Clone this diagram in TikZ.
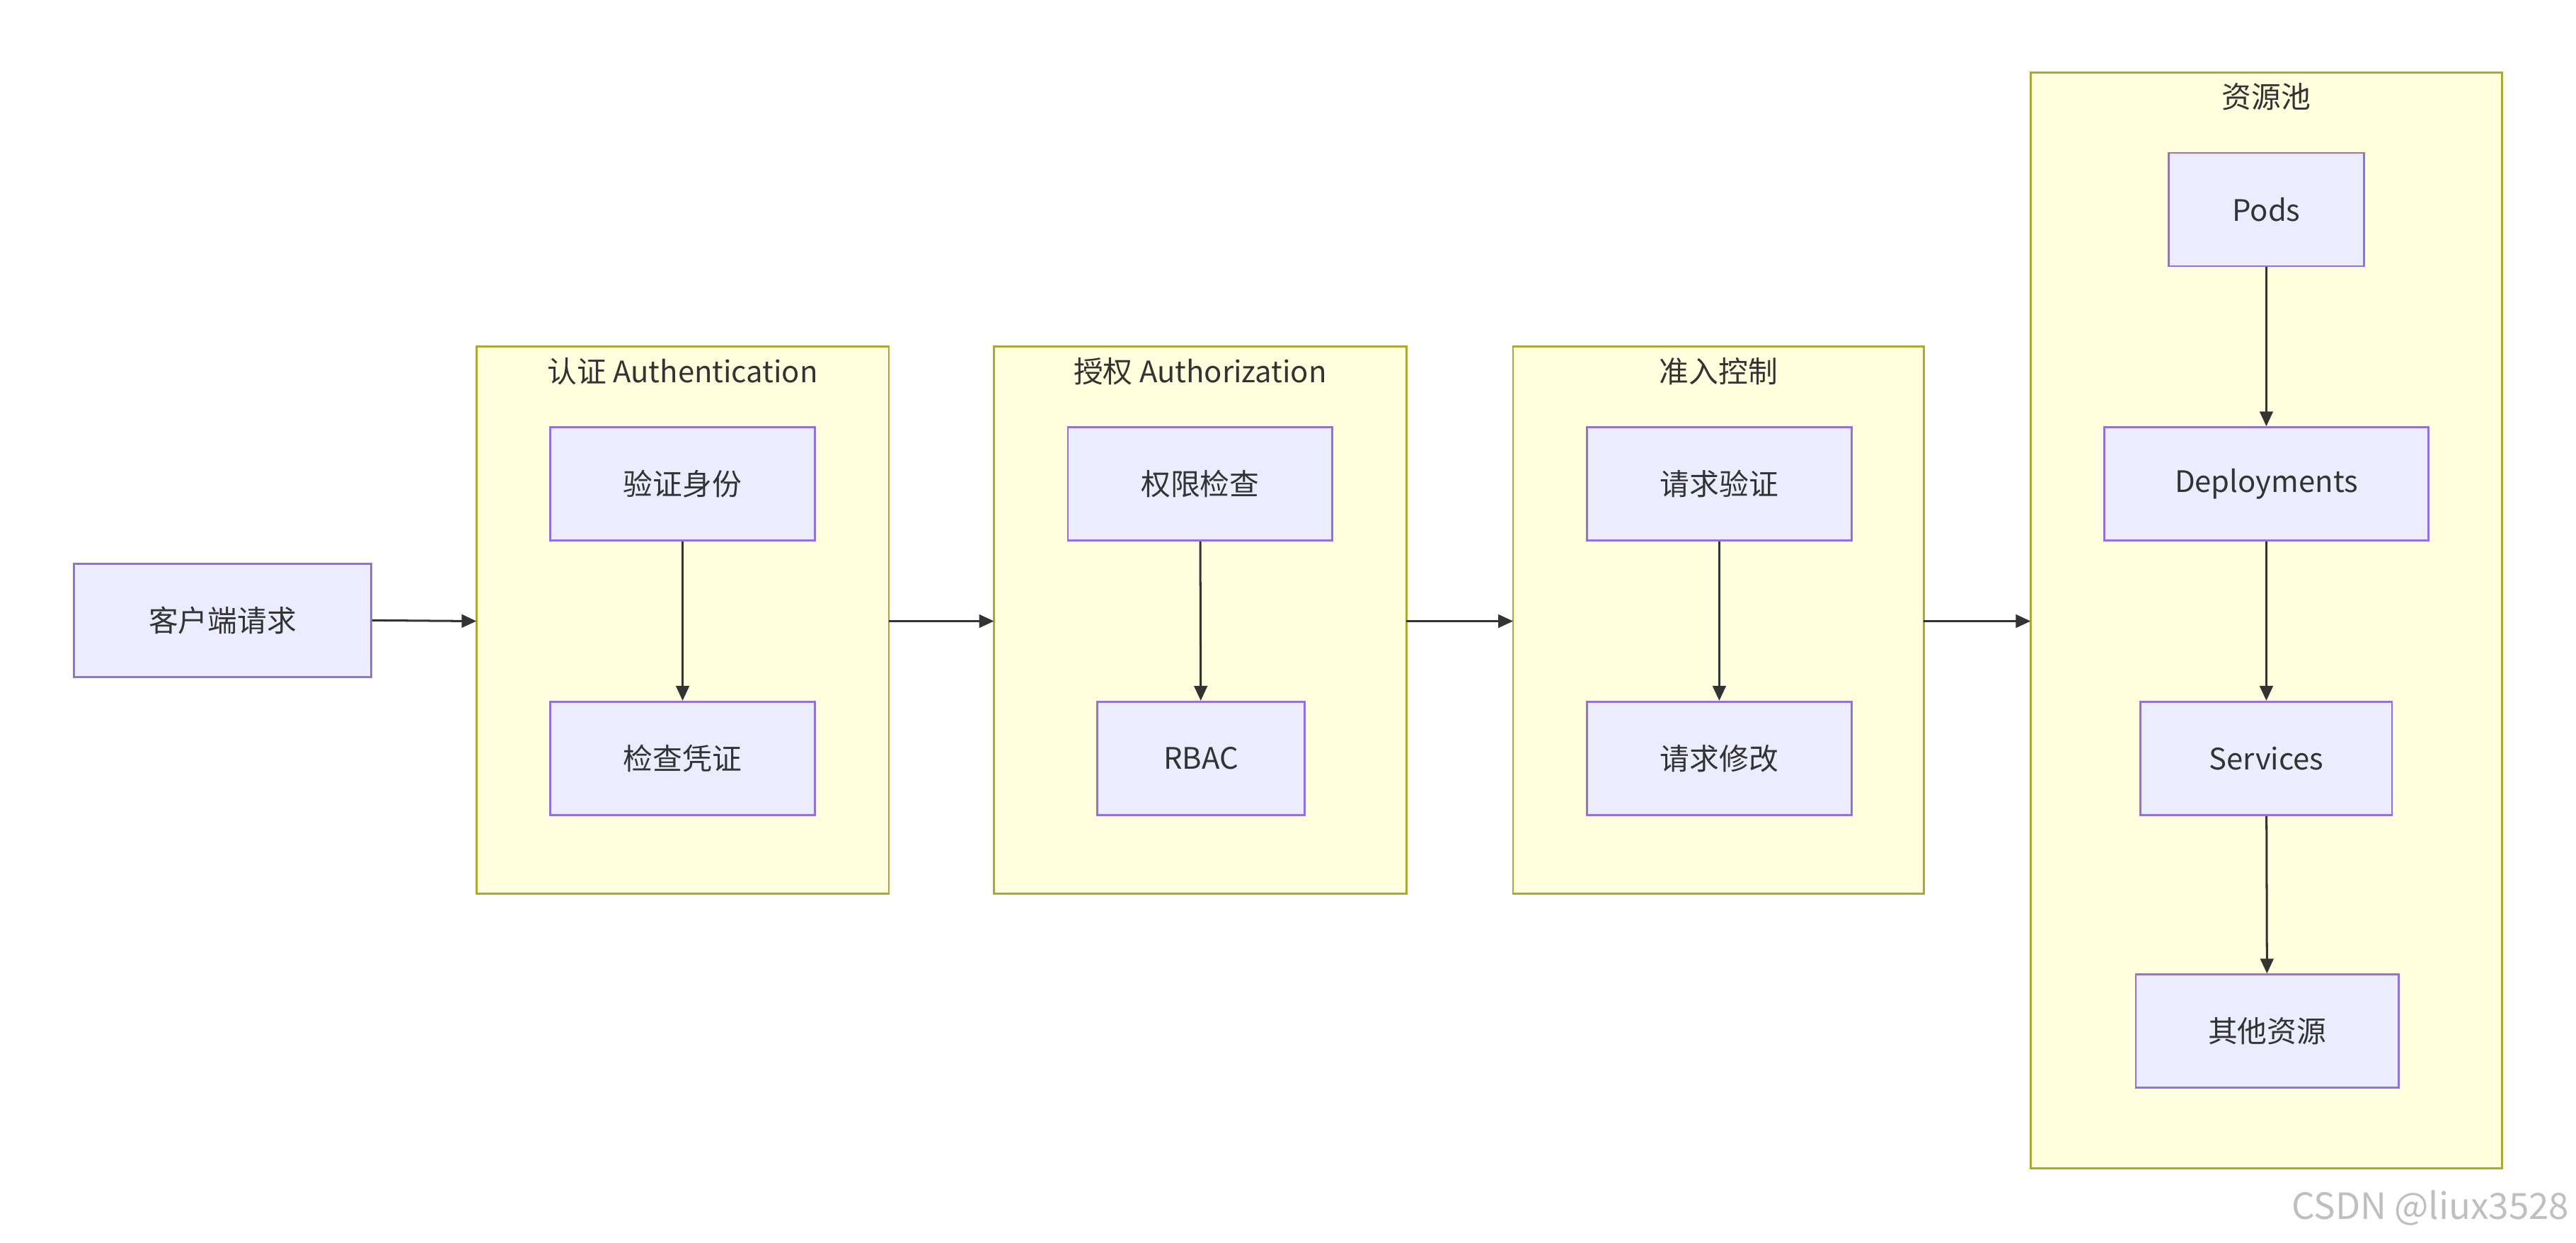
\documentclass[tikz,border=0pt]{standalone}
\usepackage{fontspec}
\setmainfont{Noto Sans CJK SC}
\usetikzlibrary{arrows.meta}
\definecolor{nfill}{HTML}{ECECFF}
\definecolor{nline}{HTML}{9370DB}
\definecolor{cfill}{HTML}{FFFFDE}
\definecolor{cline}{HTML}{AAAA33}
\definecolor{txt}{HTML}{333333}
\begin{document}
\begin{tikzpicture}[x=1pt,y=-1pt,
  nd/.style={draw=nline,fill=nfill,line width=1.2pt,text=txt,font=\fontsize{18}{20}\selectfont},
  cl/.style={draw=cline,fill=cfill,line width=1.2pt},
  ttl/.style={text=txt,font=\fontsize{18}{20}\selectfont},
  ar/.style={draw=txt,line width=1.3pt,-{Triangle[length=9pt,width=8pt]}}]
\useasboundingbox (0,0) rectangle (1568,756);
\fill[white] (0,0) rectangle (1568,756);
\newcommand{\bx}[5]{\node[nd,minimum width=#3-#2,minimum height=69,inner sep=0] (#1) at ({(#2+#3)/2},#4) {#5};}
% clusters
\draw[cl] (290,211) rectangle (541,544); \coordinate (aL) at (290,378); \coordinate (aR) at (541,378);
\draw[cl] (605,211) rectangle (856,544); \coordinate (bL) at (605,378); \coordinate (bR) at (856,378);
\draw[cl] (921,211) rectangle (1171,544); \coordinate (cL) at (921,378); \coordinate (cR) at (1171,378);
\draw[cl] (1236,44) rectangle (1523,711); \coordinate (dL) at (1236,378);
\node[ttl] (t1) at (415.5,226) {认证 Authentication};
\node[ttl] (t2) at (730.5,226) {授权 Authorization};
\node[ttl] (t3) at (1046,226) {准入控制};
\node[ttl] (t4) at (1379.5,59) {资源池};
% nodes
\bx{client}{45}{226}{377.5}{客户端请求}
\bx{a1}{335}{496}{294.5}{验证身份}
\bx{a2}{335}{496}{461.5}{检查凭证}
\bx{b1}{650}{811}{294.5}{权限检查}
\bx{b2}{668}{794}{461.5}{RBAC}
\bx{c1}{966}{1127}{294.5}{请求验证}
\bx{c2}{966}{1127}{461.5}{请求修改}
\bx{d1}{1320}{1439}{127.5}{Pods}
\bx{d2}{1281}{1478}{294.5}{Deployments}
\bx{d3}{1303}{1456}{461.5}{Services}
\bx{d4}{1300}{1460}{627.5}{其他资源}
% edges
\draw[ar] (client.east) -- (aL);
\draw[ar] (aR) -- (bL);
\draw[ar] (bR) -- (cL);
\draw[ar] (cR) -- (dL);
\draw[ar] (a1) -- (a2);
\draw[ar] (b1) -- (b2);
\draw[ar] (c1) -- (c2);
\draw[ar] (d1) -- (d2);
\draw[ar] (d2) -- (d3);
\draw[ar] (d3) -- (d4);
\node[text=black!25,font=\fontsize{22}{24}\selectfont,anchor=south east,inner sep=2] (wm) at (1566,748) {CSDN @liux3528};
\end{tikzpicture}
\end{document}
